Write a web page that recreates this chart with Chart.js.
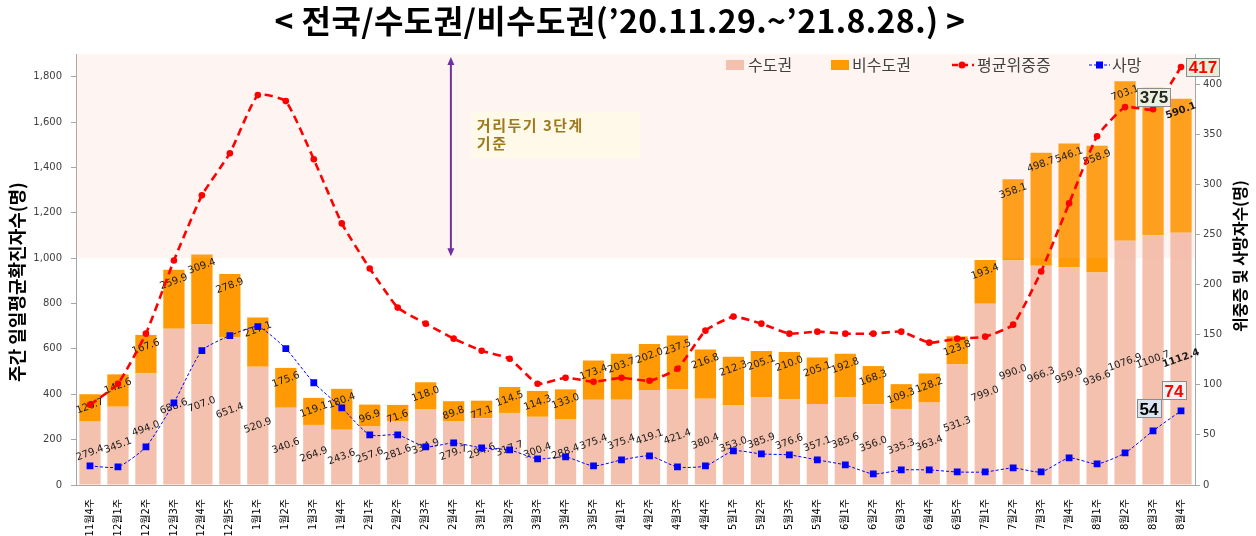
<!DOCTYPE html>
<html>
<head>
<meta charset="utf-8">
<script src="https://cdn.jsdelivr.net/npm/chart.js@4.4.0/dist/chart.umd.min.js"></script>
<style>
html,body{margin:0;padding:0;background:#ffffff;}
#wrap{width:1256px;height:536px;position:relative;}
</style>
</head>
<body>
<div id="wrap"><canvas id="c"></canvas></div>
<script>
const TITLE = "< 전국/수도권/비수도권(’20.11.29.~’21.8.28.) >";
const LEFT_TITLE = "주간 일일평균확진자수(명)";
const RIGHT_TITLE = "위중증 및 사망자수(명)";
const NOTE_LINES = ["거리두기 3단계", "기준"];
const SERIES_NAMES = ["수도권", "비수도권", "평균위중증", "사망"];

const categories = ['11월4주','12월1주','12월2주','12월3주','12월4주','12월5주','1월1주','1월2주','1월3주','1월4주',
  '2월1주','2월2주','2월3주','2월4주','3월1주','3월2주','3월3주','3월4주','3월5주','4월1주',
  '4월2주','4월3주','4월4주','5월1주','5월2주','5월3주','5월4주','6월1주','6월2주','6월3주',
  '6월4주','6월5주','7월1주','7월2주','7월3주','7월4주','8월1주','8월2주','8월3주','8월4주'];

const metro = [279.4,345.1,494.0,688.6,707.0,651.4,520.9,340.6,264.9,243.6,
  257.6,281.6,334.9,279.7,294.6,317.7,300.4,288.4,375.4,375.4,
  419.1,421.4,380.4,353.0,385.9,376.6,357.1,385.6,356.0,335.3,
  363.4,531.3,799.0,990.0,966.3,959.9,936.6,1076.9,1100.7,1112.4];

const nonMetro = [120.7,142.6,167.6,259.9,309.4,278.9,217.1,175.6,119.1,180.4,
  96.9,71.6,118.0,89.8,77.1,114.5,114.3,133.0,173.4,203.7,
  202.0,237.5,216.8,212.3,205.1,210.0,205.1,192.8,168.3,109.3,
  128.2,123.8,193.4,358.1,498.7,546.1,558.9,703.1,650.0,590.1];

const severe = [80,101,151,224,289,331,389,383,325,261,
  216,177,161,146,134,126,101,107,103,107,
  104,116,154,168,161,151,153,151,151,153,
  142,146,148,160,213,281,348,377,375,417];

const deaths = [19,18,38,82,134,149,158,136,102,77,
  50,50,38,42,37,35,26,28,19,25,
  29,18,19,34,31,30,25,20,11,15,
  15,13,13,17,13,27,21,32,54,74];

const LEFT_MAX = 1900, LEFT_STEP = 200, BAND_FROM = 1000;
const RIGHT_MAX = 430, RIGHT_STEP = 50;

const C_METRO = '#F4C1AE';
const C_NON = '#FF9A05';
const C_SEV = '#FF0000';
const C_DEATH = '#0000FF';
const NUM_FONT = "'DejaVu Sans', 'Noto Sans CJK KR', sans-serif";
const KR_FONT = "'Noto Sans CJK KR', 'DejaVu Sans', sans-serif";

Chart.defaults.font.family = NUM_FONT;

function drawLabels(chart) {
  const ctx = chart.ctx;
  const last = categories.length - 1;
  [0, 1].forEach(di => {
    const meta = chart.getDatasetMeta(di);
    meta.data.forEach((el, i) => {
      const v = chart.data.datasets[di].data[i];
      const x = el.x;
      const y = di === 0 ? (el.y + el.base) / 2 : el.y + 12;
      ctx.save();
      ctx.translate(x, y);
      ctx.rotate(-20 * Math.PI / 180);
      ctx.font = (i === last ? 'bold ' : '') + "10px " + NUM_FONT;
      ctx.fillStyle = '#1a1a1a';
      ctx.textAlign = 'center';
      ctx.textBaseline = 'middle';
      ctx.fillText(v.toFixed(1), 0, 0);
      ctx.restore();
    });
  });
}

const bandPlugin = {
  id: 'band',
  beforeDatasetsDraw(chart) { chart.$bandDone = false; },
  beforeDatasetDraw(chart, args) {
    if (chart.$bandDone || args.meta.type !== 'line') return;
    chart.$bandDone = true;
    const {ctx, chartArea} = chart;
    const yb = chart.scales.y.getPixelForValue(BAND_FROM);
    ctx.save();
    ctx.fillStyle = 'rgba(245,190,170,0.15)';
    ctx.fillRect(chartArea.left, chartArea.top, chartArea.right - chartArea.left, yb - chartArea.top);
    ctx.restore();
    drawLabels(chart);
  }
};

function box(ctx, text, cx, cy, color, bg) {
  ctx.save();
  ctx.font = "bold 17px 'Liberation Sans', Arial, sans-serif";
  const w = Math.round(ctx.measureText(text).width + 6);
  const h = 19;
  const l = Math.round(cx - w / 2), t = Math.round(cy - h / 2);
  ctx.fillStyle = bg;
  ctx.fillRect(l, t, w, h);
  ctx.strokeStyle = '#8c8c8c';
  ctx.lineWidth = 1;
  ctx.strokeRect(l + 0.5, t + 0.5, w - 1, h - 1);
  ctx.fillStyle = color;
  ctx.textAlign = 'center';
  ctx.textBaseline = 'middle';
  ctx.fillText(text, cx, cy + 1);
  ctx.restore();
}

const decorPlugin = {
  id: 'decor',
  afterDraw(chart) {
    const {ctx, chartArea, scales} = chart;
    ctx.save();
    // title
    ctx.font = "bold 32px " + KR_FONT;
    try { ctx.letterSpacing = '0.4px'; } catch (e) {}
    ctx.fillStyle = '#000';
    ctx.textAlign = 'center';
    ctx.textBaseline = 'middle';
    ctx.fillText(TITLE, 620, 21);
    try { ctx.letterSpacing = '0px'; } catch (e) {}

    // axis titles
    ctx.font = "bold 18px " + KR_FONT;
    ctx.save();
    ctx.translate(17, 282);
    ctx.rotate(-Math.PI / 2);
    ctx.fillText(LEFT_TITLE, 0, 0);
    ctx.restore();
    ctx.font = "bold 16px " + KR_FONT;
    ctx.save();
    ctx.translate(1240, 256);
    ctx.rotate(-Math.PI / 2);
    ctx.fillText(RIGHT_TITLE, 0, 0);
    ctx.restore();

    // legend
    const ly = 65;
    ctx.font = "16px " + KR_FONT;
    ctx.textAlign = 'left';
    ctx.textBaseline = 'middle';
    ctx.fillStyle = C_METRO; ctx.fillRect(726, ly - 5, 18, 10);
    ctx.fillStyle = C_NON; ctx.fillRect(831, ly - 5, 18, 10);
    ctx.fillStyle = '#404040';
    ctx.fillText(SERIES_NAMES[0], 748, ly);
    ctx.fillText(SERIES_NAMES[1], 852, ly);
    ctx.fillText(SERIES_NAMES[2], 977, ly);
    ctx.fillText(SERIES_NAMES[3], 1112, ly);
    ctx.save();
    ctx.strokeStyle = C_SEV; ctx.lineWidth = 2.5; ctx.setLineDash([6, 4]);
    ctx.beginPath(); ctx.moveTo(952, ly); ctx.lineTo(974, ly); ctx.stroke();
    ctx.setLineDash([]);
    ctx.fillStyle = C_SEV; ctx.beginPath(); ctx.arc(962, ly, 3.5, 0, Math.PI * 2); ctx.fill();
    ctx.strokeStyle = C_DEATH; ctx.lineWidth = 1; ctx.setLineDash([3, 2]);
    ctx.beginPath(); ctx.moveTo(1089, ly); ctx.lineTo(1110, ly); ctx.stroke();
    ctx.setLineDash([]);
    ctx.fillStyle = C_DEATH; ctx.fillRect(1096, ly - 3.5, 7, 7);
    ctx.restore();

    // double arrow (distancing level 3 threshold)
    const ax = scales.x.getPixelForValue(12.9);
    const aTop = chartArea.top + 3;
    const aBot = scales.y.getPixelForValue(BAND_FROM) - 2;
    ctx.strokeStyle = '#7030A0';
    ctx.fillStyle = '#7030A0';
    ctx.lineWidth = 2;
    ctx.beginPath(); ctx.moveTo(ax, aTop + 6); ctx.lineTo(ax, aBot - 6); ctx.stroke();
    ctx.beginPath(); ctx.moveTo(ax, aTop); ctx.lineTo(ax - 3.5, aTop + 8); ctx.lineTo(ax + 3.5, aTop + 8); ctx.closePath(); ctx.fill();
    ctx.beginPath(); ctx.moveTo(ax, aBot); ctx.lineTo(ax - 3.5, aBot - 8); ctx.lineTo(ax + 3.5, aBot - 8); ctx.closePath(); ctx.fill();

    // note box
    ctx.fillStyle = 'rgba(255,250,232,0.9)';
    ctx.fillRect(ax + 20, 112, 169, 46);
    ctx.fillStyle = '#9C7A1E';
    ctx.font = "bold 15px " + KR_FONT;
    try { ctx.letterSpacing = '1.5px'; } catch (e) {}
    ctx.textAlign = 'left';
    ctx.textBaseline = 'middle';
    ctx.fillText(NOTE_LINES[0], ax + 26, 125);
    ctx.fillText(NOTE_LINES[1], ax + 26, 143);
    try { ctx.letterSpacing = '0px'; } catch (e) {}

    // value call-outs for the latest weeks
    const sMeta = chart.getDatasetMeta(2), dMeta = chart.getDatasetMeta(3);
    const n = categories.length;
    const s1 = sMeta.data[n - 2], s2 = sMeta.data[n - 1];
    const d1 = dMeta.data[n - 2], d2 = dMeta.data[n - 1];
    box(ctx, String(severe[n - 2]), s1.x + 1, s1.y - 12, '#262626', '#EBF1DE');
    box(ctx, String(severe[n - 1]), s2.x + 22, s2.y, '#FF0000', '#E4EFDA');
    box(ctx, String(deaths[n - 2]), d1.x - 4, d1.y - 22, '#000000', '#DCE6F2');
    box(ctx, String(deaths[n - 1]), d2.x - 7, d2.y - 20, '#FF0000', '#F2F2F2');
    ctx.restore();
  }
};

new Chart(document.getElementById('c'), {
  type: 'bar',
  data: {
    labels: categories,
    datasets: [
      { label: SERIES_NAMES[0], data: metro, backgroundColor: C_METRO, stack: 's', yAxisID: 'y', order: 1,
        categoryPercentage: 1, barPercentage: 0.76 },
      { label: SERIES_NAMES[1], data: nonMetro, backgroundColor: C_NON, stack: 's', yAxisID: 'y', order: 1,
        categoryPercentage: 1, barPercentage: 0.76 },
      { type: 'line', label: SERIES_NAMES[2], data: severe, yAxisID: 'y1', order: 0,
        borderColor: C_SEV, borderWidth: 2.6, borderDash: [8, 5], tension: 0.15,
        pointRadius: 3.3, pointBackgroundColor: C_SEV, pointBorderWidth: 0, fill: false },
      { type: 'line', label: SERIES_NAMES[3], data: deaths, yAxisID: 'y1', order: 0,
        borderColor: C_DEATH, borderWidth: 1, borderDash: [3, 2], tension: 0.2,
        pointStyle: 'rect', pointRadius: 4.8, pointBackgroundColor: C_DEATH, pointBorderWidth: 0, fill: false }
    ]
  },
  options: {
    responsive: true,
    maintainAspectRatio: false,
    animation: false,
    devicePixelRatio: 1,
    layout: { padding: { top: 54, left: 0, right: 0, bottom: 0 } },
    plugins: { legend: { display: false }, title: { display: false }, tooltip: { enabled: false } },
    scales: {
      x: {
        stacked: true,
        grid: { display: false },
        border: { display: true, color: '#A6A6A6' },
        ticks: { autoSkip: false, minRotation: 90, maxRotation: 90, padding: 6,
          color: '#000', font: { size: 10, family: NUM_FONT } },
        afterFit(s) { s.height = 51; }
      },
      y: {
        stacked: true, position: 'left', min: 0, max: LEFT_MAX,
        grid: { drawOnChartArea: false, drawTicks: true, tickLength: 5, color: '#A6A6A6' },
        border: { display: true, color: '#A6A6A6' },
        ticks: { stepSize: LEFT_STEP, includeBounds: false, padding: 9, color: '#404040',
          font: { size: 10, family: NUM_FONT } },
        afterFit(s) { s.width = 76; }
      },
      y1: {
        position: 'right', min: 0, max: RIGHT_MAX,
        grid: { drawOnChartArea: false, drawTicks: true, tickLength: 5, color: '#A6A6A6' },
        border: { display: true, color: '#A6A6A6' },
        ticks: { stepSize: RIGHT_STEP, includeBounds: false, padding: 3, color: '#404040',
          font: { size: 10, family: NUM_FONT } },
        afterFit(s) { s.width = 61; }
      }
    }
  },
  plugins: [bandPlugin, decorPlugin]
});
</script>
</body>
</html>
